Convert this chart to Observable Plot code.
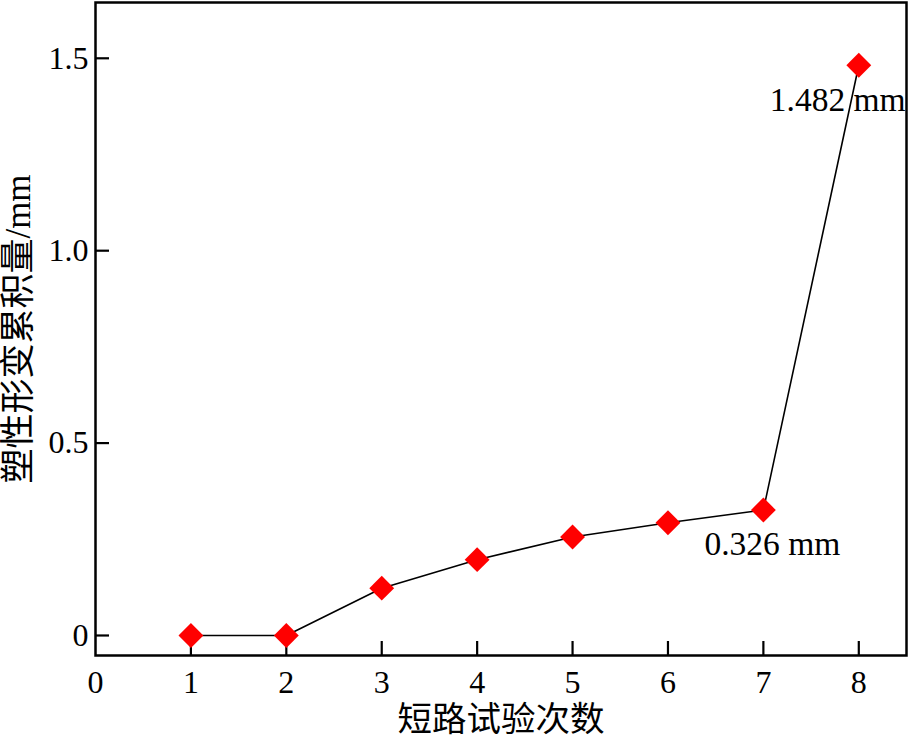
<!DOCTYPE html>
<html>
<head>
<meta charset="utf-8">
<script src="https://cdn.jsdelivr.net/npm/d3@7"></script>
<script src="https://cdn.jsdelivr.net/npm/@observablehq/plot@0.6"></script>
<style>
  html, body { margin: 0; padding: 0; background: #fff; }
  svg { display: block; }
</style>
</head>
<body>
<div id="chart"></div>
<script>
const tests = [1, 2, 3, 4, 5, 6, 7, 8];
const deformation = [0, 0, 0.123, 0.197, 0.256, 0.293, 0.326, 1.482];
const xTicks = [0, 1, 2, 3, 4, 5, 6, 7, 8];
const yTicks = [0, 0.5, 1.0, 1.5];
const yTickLabels = ["0", "0.5", "1.0", "1.5"];
const xTitle = "短路试验次数";
const yTitle = "塑性形变累积量/mm";
const annotation7 = [{test: 7, value: 0.326, label: "0.326 mm"}];
const annotation8 = [{test: 8, value: 1.482, label: "1.482 mm"}];

const data = tests.map((t, i) => ({test: t, value: deformation[i]}));
const font = "'Liberation Serif', 'Times New Roman', 'Noto Sans CJK SC', serif";

const chart = Plot.plot({
  width: 911,
  height: 739,
  marginLeft: 95,
  marginRight: 5,
  marginTop: 2,
  marginBottom: 84,
  style: {fontFamily: font, fontSize: "32px", background: "#fff", color: "#000"},
  x: {domain: [0, 8.5]},
  y: {domain: [-0.052, 1.645]},
  marks: [
    Plot.axisX(xTicks.slice(1), {tickSize: -14, text: null, strokeWidth: 2.2, label: null}),
    Plot.axisX(xTicks, {tickSize: 0, tickPadding: 15, fontSize: 32, label: null, tickFormat: d => String(d)}),
    Plot.axisY(yTicks, {tickSize: -14, text: null, strokeWidth: 2.2, label: null}),
    Plot.axisY(yTicks, {tickSize: 0, tickPadding: 7, fontSize: 32, label: null,
      tickFormat: d => yTickLabels[yTicks.indexOf(d)]}),
    Plot.line(data, {x: "test", y: "value", stroke: "#000", strokeWidth: 1.6}),
    Plot.dot(data, {x: "test", y: "value", symbol: "diamond2", r: 11.2, fill: "#ff0000", stroke: "none"}),
    Plot.text(annotation7, {x: "test", y: "value", text: "label", dx: -59, dy: 34, textAnchor: "start",
      fontSize: 33.5, fill: "#000"}),
    Plot.text(annotation8, {x: "test", y: "value", text: "label", dx: -89, dy: 35, textAnchor: "start",
      fontSize: 33.5, fill: "#000"}),
    Plot.text([xTitle], {frameAnchor: "bottom", textAnchor: "middle", dy: 75, fontSize: 34.5, fill: "#000"}),
    Plot.text([yTitle], {frameAnchor: "left", textAnchor: "middle", dx: -77, rotate: -90, fontSize: 35, fill: "#000"}),
    Plot.frame({stroke: "#000", strokeWidth: 2.5})
  ]
});

document.getElementById("chart").appendChild(chart);
</script>
</body>
</html>
